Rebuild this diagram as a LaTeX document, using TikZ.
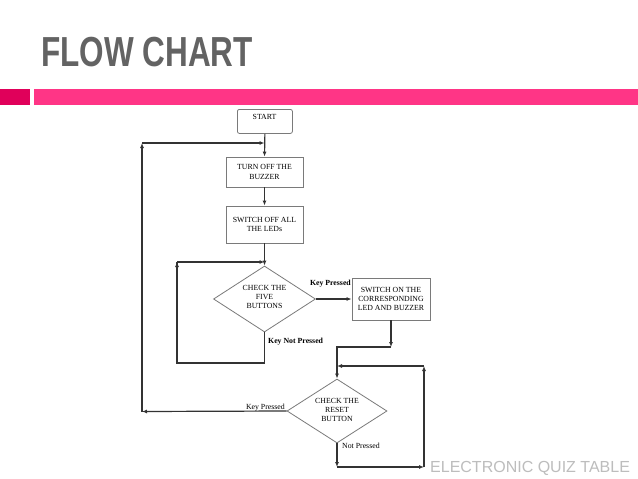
\documentclass[tikz,border=0pt]{standalone}
\usepackage{fontspec}
\setmainfont{Liberation Serif}
\newfontfamily\titlefont[FakeStretch=0.75]{Liberation Sans Bold}
\newfontfamily\footfont{Liberation Sans}
\usetikzlibrary{shapes.geometric,arrows.meta}
\definecolor{barpink}{HTML}{FF3586}
\definecolor{blockpink}{HTML}{E0005A}
\definecolor{titlegray}{HTML}{636363}
\definecolor{footgray}{HTML}{BDBDBD}
\definecolor{linegray}{HTML}{333333}
\definecolor{boxgray}{HTML}{7A7A7A}
\begin{document}
\begin{tikzpicture}[x=1pt,y=-1pt,
  every node/.style={font=\fontsize{7.8}{9.2}\selectfont, align=center, inner sep=0pt},
  procbox/.style={draw=boxgray, line width=0.8pt, rectangle},
  decision/.style={draw=boxgray, line width=0.8pt, diamond, shape aspect=1.55},
  conn/.style={draw=linegray, line width=1.2pt},
  arr/.style={conn, -{Latex[length=5pt,width=4pt]}},
  lbl/.style={font=\fontsize{7.8}{9}\selectfont},
  blbl/.style={font=\fontsize{7.8}{9}\selectfont\bfseries}]
\useasboundingbox (0,0) rectangle (638,479);
\fill[white] (0,0) rectangle (638,479);
% header
\node[anchor=base west, font=\fontsize{42}{42}\selectfont\titlefont, text=titlegray] (title) at (41,66) {FLOW CHART};
\fill[blockpink] (0,89) rectangle (30,105);
\fill[barpink] (34,89) rectangle (638,105);
% nodes
\node[procbox, rounded corners=2pt, minimum width=55, minimum height=24, anchor=north west] (start) at (237,109) {};
\node (starttxt) at (264.5,117) {START};
\node[procbox, minimum width=77, minimum height=30] (buzzer) at (264.5,172) {TURN OFF THE\\BUZZER};
\node[procbox, minimum width=77, minimum height=37] (leds) at (264.5,224.5) {SWITCH OFF ALL\\THE LEDs};
\node[decision, minimum width=102, minimum height=66] (five) at (264.5,299) {};
\node (fivetxt) at (264.5,297) {CHECK THE\\FIVE\\BUTTONS};
\node[procbox, minimum width=78, minimum height=42] (ledon) at (391,299) {SWITCH ON THE\\CORRESPONDING\\LED AND BUZZER};
\node[decision, minimum width=100, minimum height=64] (reset) at (337,411) {};
\node (resettxt) at (337,410) {CHECK THE\\RESET\\BUTTON};
% coordinates
\coordinate (ltop) at (142,143);
\coordinate (lbot) at (142,411.5);
\coordinate (jtop) at (264.5,143);
\coordinate (itop) at (264.5,262);
\coordinate (iltop) at (177,262);
\coordinate (ilbot) at (177,363);
\coordinate (ibot) at (264.5,363);
\coordinate (m1) at (391,347);
\coordinate (m2) at (337,347);
\coordinate (rj) at (337,366);
\coordinate (rrtop) at (424,366);
\coordinate (rrbot) at (424,467);
\coordinate (rbot) at (337,467);
% connectors
\draw[arr] (start.south) -- (buzzer.north);
\draw[arr] (buzzer.south) -- (leds.north);
\draw[conn] (leds.south) -- (itop);
\draw[arr] (itop) -- (five.north);
\draw[conn] (five.south) -- (ibot) -- (ilbot) -- (iltop);
\draw[arr] (ilbot) -- (iltop);
\draw[arr] (iltop) -- (itop);
\draw[arr] (five.east) -- (ledon.west);
\draw[arr] (ledon.south) -- (m1);
\draw[conn] (m1) -- (m2) -- (rj);
\draw[arr] (rj) -- (reset.north);
\draw[arr] (reset.south) -- (rbot);
\draw[arr] (rbot) -- (rrbot);
\draw[arr] (rrbot) -- (rrtop);
\draw[arr] (rrtop) -- (rj);
\draw[arr] (reset.west) -- (lbot);
\draw[arr] (lbot) -- (ltop);
\draw[arr] (ltop) -- (jtop);
% labels
\node[blbl, anchor=base east] (kp1) at (351,285) {Key Pressed};
\node[blbl, anchor=base west] (knp) at (268,343) {Key Not Pressed};
\node[lbl, anchor=base east] (kp2) at (285,409) {Key Pressed};
\node[lbl, anchor=base west] (np) at (342,448) {Not Pressed};
% footer
\node[anchor=base west, font=\fontsize{16}{16}\selectfont\footfont, text=footgray] (foot) at (430,472) {ELECTRONIC QUIZ TABLE};
\end{tikzpicture}
\end{document}
